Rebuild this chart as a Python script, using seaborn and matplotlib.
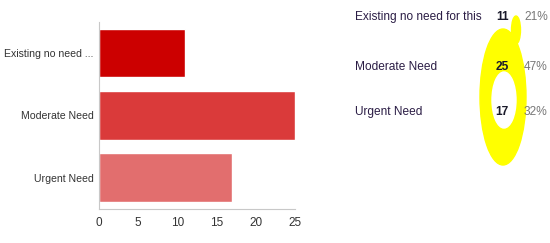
import numpy as np
import pandas as pd
import seaborn as sns
import matplotlib
matplotlib.use("Agg")
import matplotlib.pyplot as plt
from matplotlib.patches import Ellipse

categories = ["Existing no need ...", "Moderate Need", "Urgent Need"]
full_labels = ["Existing no need for this", "Moderate Need", "Urgent Need"]
counts = [11, 25, 17]
percents = ["21%", "47%", "32%"]
bar_colors = ["#cc0000", "#da3a3a", "#e26e6e"]

sns.set_style("white")
plt.rcParams["font.family"] = ["Liberation Sans", "DejaVu Sans"]

df = pd.DataFrame({"answer": categories, "count": counts})

fig = plt.figure(figsize=(5.5, 2.43), dpi=100)
ax = fig.add_axes([0.18, 0.14, 0.356, 0.77])
sns.barplot(data=df, y="answer", x="count", hue="answer", palette=bar_colors,
            saturation=1, legend=False, width=0.78, ax=ax, orient="h")
ax.set_xlim(0, 25)
ax.set_xticks([0, 5, 10, 15, 20, 25])
ax.set_xlabel("")
ax.set_ylabel("")
for s in ["top", "right"]:
    ax.spines[s].set_visible(False)
for s in ["left", "bottom"]:
    ax.spines[s].set_color("#c8c8c8")
    ax.spines[s].set_linewidth(0.8)
ax.tick_params(axis="y", length=3, color="#c8c8c8", labelsize=7.6,
               labelcolor="#333333", pad=1)
ax.tick_params(axis="x", length=3, color="#c8c8c8", labelsize=8.5,
               labelcolor="#333333", pad=3)

# highlighter scribble (pixel coords -> figure fraction)
W, H = 550, 243
def fx(x):
    return x / W
def fy(y):
    return 1 - y / H
fig.patches.append(Ellipse((fx(503), fy(97)), 46 / W, 136 / H, color="#ffff00",
                           transform=fig.transFigure, zorder=0))
fig.patches.append(Ellipse((fx(516), fy(30)), 9 / W, 28 / H, color="#ffff00",
                           transform=fig.transFigure, zorder=0))
fig.patches.append(Ellipse((fx(504), fy(100)), 24 / W, 56 / H, color="white",
                           transform=fig.transFigure, zorder=0))

rows_y = [17, 67, 112]
for lab, c, p, y in zip(full_labels, counts, percents, rows_y):
    fig.text(fx(355), fy(y), lab, fontsize=8.6, color="#2b1d45", va="center", ha="left")
    fig.text(fx(509), fy(y), str(c), fontsize=8.6, color="#1a1a2a", va="center",
             ha="right", fontweight="bold")
    fig.text(fx(524), fy(y), p, fontsize=8.6, color="#777777", va="center", ha="left")

fig.savefig("out.png", dpi=100)
